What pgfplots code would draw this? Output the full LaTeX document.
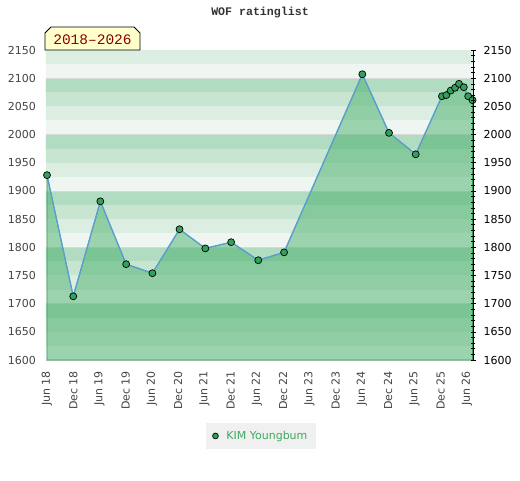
\documentclass[border=0pt]{standalone}
\usepackage{fontspec}
\setmainfont{DejaVu Sans}
\newfontfamily\monofont{Liberation Mono}
\usepackage{pgfplots}
\pgfplotsset{compat=1.18}
\usepackage{pgfplotstable}

\definecolor{bA}{RGB}{178,220,193}
\definecolor{bB}{RGB}{200,229,210}
\definecolor{bC}{RGB}{220,237,226}
\definecolor{bD}{RGB}{239,246,241}
\definecolor{areagreen}{RGB}{64,173,101}
\definecolor{edgegreen}{RGB}{55,155,90}
\definecolor{lineblue}{RGB}{91,158,214}
\definecolor{markgreen}{RGB}{48,160,90}
\definecolor{legtext}{RGB}{60,170,95}
\definecolor{boxfill}{RGB}{255,255,204}
\definecolor{boxtext}{RGB}{139,0,0}
\definecolor{labgray}{RGB}{68,68,68}

\pgfplotstableread{
m r
0 1928
6 1713
12.2 1881.5
18.1 1770
24.1 1754
30.3 1832
36.2 1798
42.1 1809
48.3 1777
54.2 1791
72.1 2107
78.2 2003
84.3 1965
90.3 2068
91.3 2070
92.3 2078
93.3 2083
94.2 2090
95.3 2084
96.3 2068
97.3 2061
}\ratings

\begin{document}
\begin{tikzpicture}
\path[use as bounding box] (-46pt,-120pt) rectangle (474pt,360pt);
\begin{axis}[
  at={(0,0)}, anchor=south west,
  scale only axis, width=427pt, height=310pt,
  xmin=-0.23, xmax=97.4, ymin=1600, ymax=2150,
  axis line style={black!18},
  ytick={1600,1650,...,2150},
  xtick={0,6,...,96},
  xticklabels={Jun 18,Dec 18,Jun 19,Dec 19,Jun 20,Dec 20,Jun 21,Dec 21,Jun 22,Dec 22,Jun 23,Dec 23,Jun 24,Dec 24,Jun 25,Dec 25,Jun 26},
  xticklabel style={rotate=90, anchor=east, inner sep=0pt, font=\fontsize{11}{13}\selectfont, text=labgray},
  xticklabel shift=11pt,
  yticklabel style={inner sep=0pt, font=\fontsize{11}{13}\selectfont, text=labgray},
  yticklabel shift=10pt,
  major tick length=0pt, minor tick length=0pt,
  tick style={draw=none},
  /pgf/number format/assume math mode=true,
  /pgf/number format/1000 sep={},
  legend style={at={(0.5035,-0.245)}, anchor=center, fill=black!6, draw=none,
    font=\fontsize{11}{13}\selectfont, text=legtext, inner xsep=7pt, inner ysep=6pt,
    column sep=6pt},
  legend image code/.code={\draw[mark=*, mark size=2.9pt, mark options={fill=markgreen, draw=black, line width=0.7pt}] plot coordinates {(0pt,0pt)};},
]
% background bands
\fill[bD] (axis cs:-5,1600) rectangle (axis cs:105,2200);
\fill[bA] (axis cs:-5,1675) rectangle (axis cs:105,1700);
\fill[bB] (axis cs:-5,1650) rectangle (axis cs:105,1675);
\fill[bC] (axis cs:-5,1625) rectangle (axis cs:105,1650);
\fill[bA] (axis cs:-5,1775) rectangle (axis cs:105,1800);
\fill[bB] (axis cs:-5,1750) rectangle (axis cs:105,1775);
\fill[bC] (axis cs:-5,1725) rectangle (axis cs:105,1750);
\fill[bA] (axis cs:-5,1875) rectangle (axis cs:105,1900);
\fill[bB] (axis cs:-5,1850) rectangle (axis cs:105,1875);
\fill[bC] (axis cs:-5,1825) rectangle (axis cs:105,1850);
\fill[bA] (axis cs:-5,1975) rectangle (axis cs:105,2000);
\fill[bB] (axis cs:-5,1950) rectangle (axis cs:105,1975);
\fill[bC] (axis cs:-5,1925) rectangle (axis cs:105,1950);
\fill[bA] (axis cs:-5,2075) rectangle (axis cs:105,2100);
\fill[bB] (axis cs:-5,2050) rectangle (axis cs:105,2075);
\fill[bC] (axis cs:-5,2025) rectangle (axis cs:105,2050);
\fill[bC] (axis cs:-5,2125) rectangle (axis cs:105,2150);
\draw[black!15] (axis cs:-5,1700) -- (axis cs:105,1700);
\draw[black!15] (axis cs:-5,1800) -- (axis cs:105,1800);
\draw[black!15] (axis cs:-5,1900) -- (axis cs:105,1900);
\draw[black!15] (axis cs:-5,2000) -- (axis cs:105,2000);
\draw[black!15] (axis cs:-5,2100) -- (axis cs:105,2100);
% area
\addplot[fill=areagreen, fill opacity=0.48, draw=edgegreen, line width=0.8pt, forget plot] table[x=m,y=r] {\ratings} \closedcycle;
% line
\addplot[lineblue, line width=1.3pt, forget plot] table[x=m,y=r] {\ratings};
% marks
\addplot[only marks, mark=*, mark size=3.5pt, mark options={fill=markgreen, draw=black, line width=0.7pt}] table[x=m,y=r] {\ratings};
\addlegendentry{KIM Youngbum}
\end{axis}
\begin{axis}[
  at={(0,0)}, anchor=south west,
  scale only axis, width=427pt, height=310pt,
  xmin=-0.23, xmax=97.4, ymin=1600, ymax=2150,
  axis y line*=right, axis x line=none,
  axis line style={black, line width=0.6pt, -},
  ytick={1600,1650,...,2150},
  minor y tick num=4,
  tick align=center,
  major tick length=5pt, minor tick length=4pt,
  tick style={black, line width=0.6pt},
  yticklabel style={font=\fontsize{11}{13}\selectfont, text=black, inner sep=0pt},
  yticklabel shift=8pt,
  /pgf/number format/assume math mode=true,
  /pgf/number format/1000 sep={},
]
\end{axis}
\node[font=\monofont\bfseries\fontsize{11.6}{13}\selectfont, text=black!80] at (214pt,347pt) {WOF ratinglist};
\draw[fill=boxfill, draw=black, line width=0.8pt] (-1pt,310pt) -- (-1pt,327pt) -- (5pt,333pt) -- (88pt,333pt) -- (94pt,327pt) -- (94pt,310pt) -- cycle;
\node[font=\monofont\fontsize{14.5}{16}\selectfont, text=boxtext] at (46.5pt,320.5pt) {2018–2026};
\end{tikzpicture}
\end{document}
